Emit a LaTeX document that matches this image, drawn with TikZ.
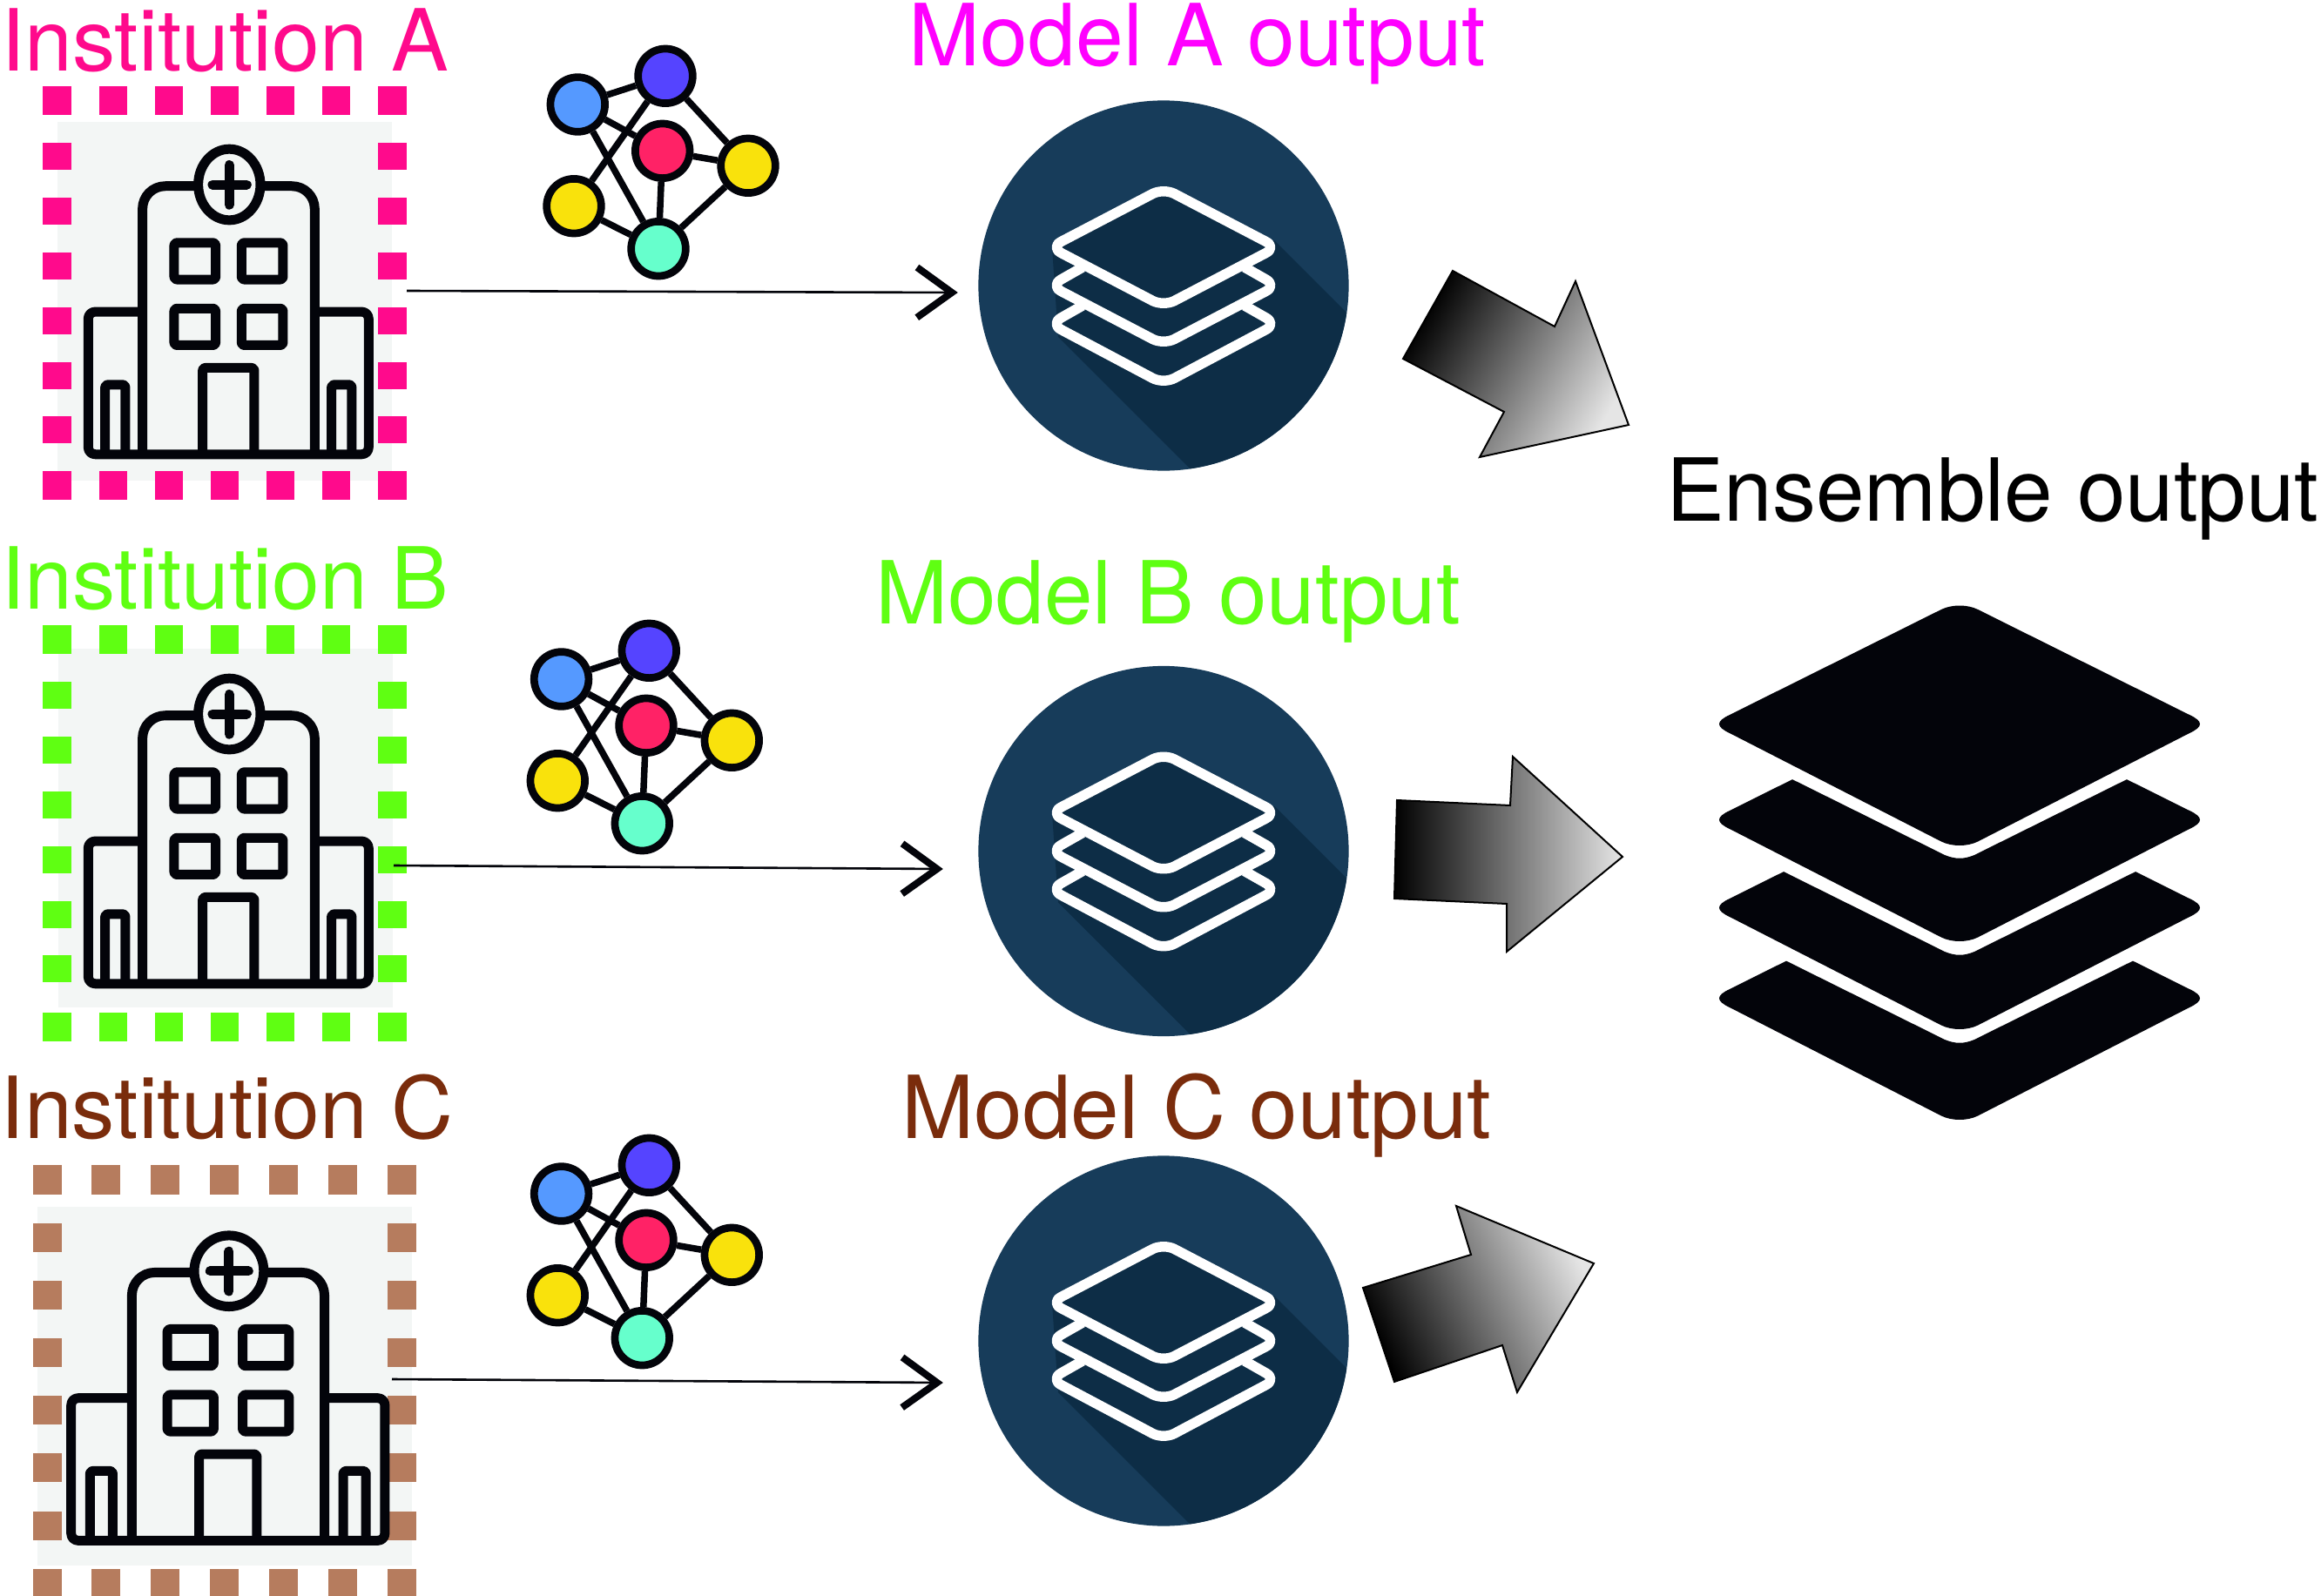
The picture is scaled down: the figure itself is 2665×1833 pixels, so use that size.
\documentclass[tikz,border=0pt]{standalone}
\usepackage{fontspec}
\setmainfont{TeX Gyre Heros}
\usetikzlibrary{arrows.meta,shadings}
\definecolor{pinkA}{HTML}{FF0A8C}
\definecolor{magA}{HTML}{FF00FF}
\definecolor{greenB}{HTML}{5FFF12}
\definecolor{brownC}{HTML}{7A2C0C}
\definecolor{brownSq}{HTML}{B67C5E}
\definecolor{hospBg}{HTML}{F3F6F5}
\definecolor{inkK}{HTML}{03040A}
\definecolor{circLight}{HTML}{173C5A}
\definecolor{circDark}{HTML}{0D2D46}
\definecolor{netBlue}{HTML}{5599FF}
\definecolor{netViolet}{HTML}{5544FF}
\definecolor{netRed}{HTML}{FF2266}
\definecolor{netYellow}{HTML}{F9E20C}
\definecolor{netGreen}{HTML}{66FFCC}
\pgfdeclarearrow{
  name=ThickChevron,
  setup code={%
    \pgfarrowssettipend{0pt}\pgfarrowssetlineend{-2pt}%
    \pgfarrowssetvisualbackend{-13.4pt}\pgfarrowssetbackend{-13.4pt}%
    \pgfarrowshullpoint{0pt}{0pt}\pgfarrowshullpoint{-13.4pt}{8.2pt}\pgfarrowshullpoint{-13.4pt}{-8.2pt}},
  drawing code={%
    \pgfsetdash{}{0pt}\pgfsetmiterjoin\pgfsetbuttcap\pgfsetlinewidth{2.28pt}%
    \pgfpathmoveto{\pgfqpoint{-13.4pt}{8.2pt}}%
    \pgfpathlineto{\pgfqpoint{-2pt}{0pt}}%
    \pgfpathlineto{\pgfqpoint{-13.4pt}{-8.2pt}}%
    \pgfusepathqstroke}
}
\tikzset{
  label text/.style={font=\fontsize{28.4pt}{30pt}\selectfont,anchor=base,inner sep=0pt},
  inst text/.style={font=\fontsize{28pt}{30pt}\selectfont,anchor=base,inner sep=0pt},
  hospline/.style={draw=inkK,line width=.11cm,line join=round},
  netnode/.style={circle,draw=inkK,line width=.087cm,minimum size=.626cm,inner sep=0pt},
  netedge/.style={draw=inkK,line width=.075cm},
  flowarrow/.style={draw=inkK,line width=.026cm,-{ThickChevron}},
  modelcircle/.style={circle,fill=circLight,minimum size=4.25cm,inner sep=0pt},
  iconline/.style={draw=white,line width=.115cm,line join=round,rounded corners=.14cm},
  bigarrow/.style={draw=black,line width=.02cm,top color=black,middle color=black!62!white,bottom color=white!90!black},
}
% hospital drawing in its own coordinates
\newcommand{\hospitalicon}[4]{%
  \begin{scope}[shift={(#1,#2)},xscale=#3,yscale=#4]
    \draw[hospline,rounded corners=.08cm] (491,867) -- (304,867) -- (304,1340) -- (1270,1340) -- (1270,867) -- (1084,867);
    \draw[hospline,rounded corners=.26cm] (491,1340) -- (491,450) -- (675,450);
    \draw[hospline,rounded corners=.26cm] (905,450) -- (1084,450) -- (1084,1340);
    \draw[hospline] (790,445) ellipse [x radius=107,y radius=118];
    \draw[hospline,line cap=round] (790,380) -- (790,512) (732,445) -- (850,445);
    \foreach \wx/\wy in {600/638,832/638,600/856,832/856}
      \draw[hospline,rounded corners=.03cm] (\wx,\wy) rectangle ++(143,122);
    \draw[hospline,rounded corners=.03cm] (698,1340) -- (698,1053) -- (876,1053) -- (876,1340);
    \draw[hospline,rounded corners=.03cm] (362,1340) -- (362,1109) -- (432,1109) -- (432,1340);
    \draw[hospline,rounded corners=.03cm] (1142,1340) -- (1142,1109) -- (1212,1109) -- (1212,1340);
  \end{scope}}
% network icon: #1 name prefix, #2,#3 offset
\newcommand{\neticon}[3]{%
  \begin{scope}[shift={(#2,#3)}]
    \node[netnode,fill=netBlue]   (#1b) at (663.3,120) {};
    \node[netnode,fill=netViolet] (#1v) at (764,87.3) {};
    \node[netnode,fill=netRed]    (#1r) at (760.7,173.3) {};
    \node[netnode,fill=netYellow] (#1y) at (859,190.3) {};
    \node[netnode,fill=netYellow] (#1l) at (659,236.7) {};
    \node[netnode,fill=netGreen]  (#1g) at (756,285.7) {};
    \foreach \p/\q in {b/v,b/r,b/g,v/l,v/y,r/y,r/g,l/g,y/g}
      \draw[netedge] (#1\p) -- (#1\q);
  \end{scope}}
% model icon: circle with shadow and stack
\newcommand{\modelicon}[2]{%
  \node[modelcircle] (#1) at (1336,#2) {};
  \begin{scope}[shift={(1336,#2)}]
    \begin{scope}
      \clip (0,0) circle [radius=212.5];
      \fill[circDark] (0,-108) -- (128,-51) -- (364,185) -- (364,259) -- (79,259) -- (-121,59) -- (-128,-44) -- cycle;
    \end{scope}
    \draw[iconline] (-93,23) -- (-130,44) -- (0,113) -- (130,44) -- (93,23);
    \draw[iconline] (-93,-21) -- (-130,0) -- (0,68) -- (130,0) -- (93,-21);
    \draw[iconline,fill=circDark] (0,-112) -- (130,-44) -- (0,24) -- (-130,-44) -- cycle;
  \end{scope}}
% big stack layers
\newcommand{\bigtop}{%
  (2514,821) .. controls (2530,828.5) and (2530,834.5) .. (2514,842) -- (2271,966.5) .. controls (2259,972.5) and (2241,972.5) .. (2229,966.5) -- (1986,842) .. controls (1970,834.5) and (1970,828.5) .. (1986,821)}
\newcommand{\biglayer}[3]{%
  \pgfmathsetmacro{\ys}{821-.498*(#2-1986)}
  \pgfmathsetmacro{\xm}{4500-#2}
  \pgfmathsetmacro{\gc}{#3+5}
  \begin{scope}[shift={(0,#1)}]
    \fill[inkK] (#2,\ys) -- (2233,#3) .. controls (2245,\gc) and (2255,\gc) .. (2267,#3) -- (\xm,\ys) -- \bigtop -- cycle;
  \end{scope}}
\begin{document}
\begin{tikzpicture}[x=.01cm,y=-.01cm]
\useasboundingbox (0,0) rectangle (2665,1833);
\fill[white] (0,0) rectangle (2665,1833);

% Hospital backgrounds and frames
\fill[hospBg] (66,140) rectangle (450,552);
\fill[hospBg] (67,745) rectangle (451,1157);
\fill[hospBg] (43,1386) rectangle (473,1798);
\foreach \dy/\db/\col in {0/0/pinkA,619/622/greenB}{
  \foreach \sx/\sw in {49/33,114/32,178/32,242/32,306/32,370/32,434/33}{
    \fill[\col] (\sx,99+\dy) rectangle ++(\sw,33);
    \fill[\col] (\sx,541+\db) rectangle ++(\sw,33);
  }
  \foreach \sy in {164,227,290,352.5,415.5,478}{
    \fill[\col] (49,\sy+\dy) rectangle ++(33,31);
    \fill[\col] (434,\sy+\dy) rectangle ++(33,31);
  }
}
\foreach \sx in {38,105,173,241,309,377,445}{
  \fill[brownSq] (\sx,1338) rectangle ++(33,34);
  \fill[brownSq] (\sx,1801.5) rectangle ++(33,33);
}
\foreach \sy in {1405,1471,1537,1603,1669,1736}{
  \fill[brownSq] (38,\sy) rectangle ++(33,33);
  \fill[brownSq] (445,\sy) rectangle ++(33,33);
}
\hospitalicon{0}{58}{.3333}{.3461}
\hospitalicon{0}{666}{.3333}{.3461}
\hospitalicon{-31.6}{1305.8}{.3728}{.3459}

% Labels
\node[inst text,text=pinkA]  (instA) at (258,81)  {Institution A};
\node[inst text,text=greenB] (instB) at (258,699) {Institution B};
\node[inst text,text=brownC] (instC) at (260.5,1307) {Institution C};
\node[label text,text=magA,font=\fontsize{28pt}{30pt}\selectfont] (modA) at (1375,75)  {Model A output};
\node[label text,text=greenB] (modB) at (1341,716) {Model B output};
\node[label text,text=brownC] (modC) at (1374,1307) {Model C output};
\node[label text,text=black]  (ens)  at (2288,598) {Ensemble output};

% Networks
\neticon{na}{0}{0}
\neticon{nb}{-18.7}{660}
\neticon{nc}{-18.7}{1251}

% Model circles
\modelicon{circA}{328}
\modelicon{circB}{977.5}
\modelicon{circC}{1540}

% Thin arrows
\coordinate (sA) at (467,334);
\coordinate (eA) at (1100,336);
\coordinate (sB) at (452,994);
\coordinate (eB) at (1083,998);
\coordinate (sC) at (450,1584);
\coordinate (eC) at (1083,1588);
\draw[flowarrow] (sA) -- (eA);
\draw[flowarrow] (sB) -- (eB);
\draw[flowarrow] (sC) -- (eC);

% Gradient arrows
\path[bigarrow,shading angle=60] (1668,311) -- (1785,375) -- (1809,323) -- (1870,488) -- (1699,525) -- (1727,473) -- (1611,412) -- cycle;
\path[bigarrow,shading angle=90] (1604,919) -- (1734,925) -- (1737,869) -- (1863,984) -- (1730,1093) -- (1730,1038) -- (1601,1032) -- cycle;
\path[bigarrow,shading angle=115] (1565,1479) -- (1689,1441) -- (1672,1385) -- (1830,1451) -- (1742,1599) -- (1725,1545) -- (1601,1587) -- cycle;

% Big stack
\fill[inkK] (1986,821) -- (2229,700) .. controls (2241,694) and (2259,694) .. (2271,700) -- \bigtop -- cycle;
\biglayer{110}{2058}{872}
\biglayer{211}{2048}{882}
\biglayer{315}{2051}{879}
\end{tikzpicture}
\end{document}
